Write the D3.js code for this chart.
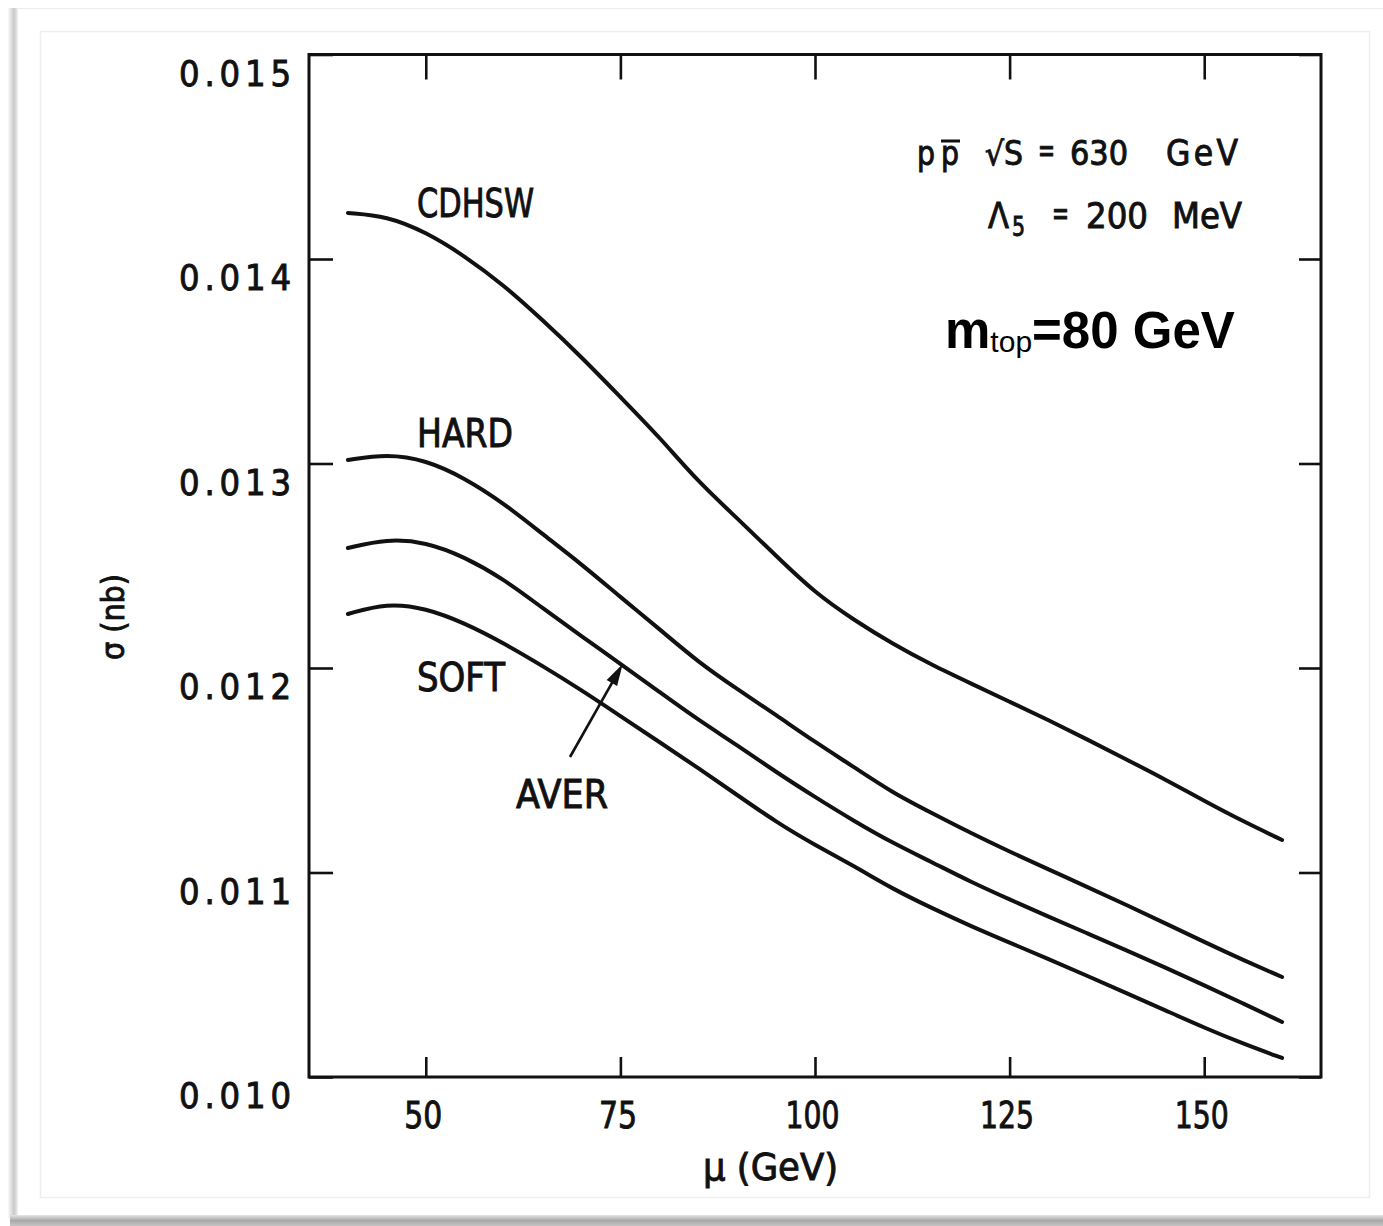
<!DOCTYPE html>
<html>
<head>
<meta charset="utf-8">
<script src="https://cdn.jsdelivr.net/npm/d3@7"></script>
<style>
  html, body { margin: 0; padding: 0; background: #fff; }
  svg { display: block; }
  .plot-text { font-family: "DejaVu Sans Condensed", "DejaVu Sans", sans-serif; font-stretch: condensed; fill: #111; stroke: #111; stroke-width: 0.9px; }
</style>
</head>
<body>
<svg id="chart" width="1383" height="1226"></svg>
<script>
// ---------------- data ----------------
const mu = [40,45,50,55,60,65,70,75,80,85,90,95,100,105,110,115,120,125,130,135,140,145,150,155,160];
const cdhsw = [0.014225,0.014210,0.014132,0.014015,0.013873,0.013702,0.013521,0.013325,0.013130,0.012910,0.012733,0.012548,0.012367,0.012235,0.012117,0.012015,0.011925,0.011835,0.011745,0.011650,0.011553,0.011455,0.011350,0.011250,0.011159];
const hard  = [0.013017,0.013046,0.013017,0.012929,0.012806,0.012655,0.012508,0.012347,0.012191,0.012029,0.011897,0.011770,0.011638,0.011516,0.011389,0.011291,0.011193,0.011102,0.011015,0.010929,0.010841,0.010752,0.010660,0.010572,0.010489];
const aver  = [0.012587,0.012631,0.012616,0.012543,0.012435,0.012293,0.012156,0.012020,0.011883,0.011746,0.011623,0.011491,0.011369,0.011252,0.011144,0.011051,0.010954,0.010868,0.010784,0.010702,0.010620,0.010535,0.010448,0.010360,0.010269];
const soft  = [0.012264,0.012318,0.012293,0.012220,0.012122,0.012010,0.011892,0.011765,0.011638,0.011511,0.011379,0.011247,0.011134,0.011032,0.010919,0.010826,0.010738,0.010657,0.010577,0.010494,0.010410,0.010326,0.010241,0.010163,0.010093];
const seriesNames = ["CDHSW","HARD","AVER","SOFT"];
const xTicks = [50,75,100,125,150];
const xTickLabels = ["50","75","100","125","150"];
const yTicks = [0.010,0.011,0.012,0.013,0.014,0.015];
const yTickLabels = ["0.010","0.011","0.012","0.013","0.014","0.015"];
const xTitle = "\u03bc  (GeV)";
const yTitle = "\u03c3 (nb)";

// ---------------- layout ----------------
const W = 1383, H = 1226;
const svg = d3.select("#chart");
const x = d3.scaleLinear().domain([35,165]).range([309,1321]);
const y = d3.scaleLinear().domain([0.010,0.015]).range([1077,54.5]);

// page decoration (paper + shadow)
const defs = svg.append("defs");
const gb = defs.append("linearGradient").attr("id","gBottom").attr("x1",0).attr("y1",0).attr("x2",0).attr("y2",1);
gb.append("stop").attr("offset","0%").attr("stop-color","#e6e6e6");
gb.append("stop").attr("offset","50%").attr("stop-color","#a8a8a8");
gb.append("stop").attr("offset","100%").attr("stop-color","#c4c4c4");
const gl = defs.append("linearGradient").attr("id","gLeft").attr("x1",0).attr("y1",0).attr("x2",1).attr("y2",0);
gl.append("stop").attr("offset","0%").attr("stop-color","#fafafa");
gl.append("stop").attr("offset","60%").attr("stop-color","#c9c9c9");
gl.append("stop").attr("offset","100%").attr("stop-color","#f2f2f2");

svg.append("rect").attr("x",0).attr("y",0).attr("width",W).attr("height",H).attr("fill","#fff");
svg.append("rect").attr("x",8).attr("y",8).attr("width",10).attr("height",1210).attr("fill","url(#gLeft)");
svg.append("rect").attr("x",10).attr("y",1215).attr("width",W-10).attr("height",11).attr("fill","url(#gBottom)");
svg.append("line").attr("x1",18).attr("x2",W).attr("y1",8.5).attr("y2",8.5).attr("stroke","#ececec").attr("stroke-width",1);
svg.append("rect").attr("x",40.5).attr("y",31.5).attr("width",1329).attr("height",1166)
  .attr("fill","none").attr("stroke","#eeeeee").attr("stroke-width",1.5);

// ---------------- axes ----------------
const [x0,x1] = x.range();
const [yb,yt] = y.range();

const axL = svg.append("g").attr("transform",`translate(${x0},0)`)
  .call(d3.axisLeft(y).tickValues(yTicks).tickSizeInner(-24).tickSizeOuter(0).tickPadding(18)
        .tickFormat((d,i)=>yTickLabels[i]));
const axR = svg.append("g").attr("transform",`translate(${x1},0)`)
  .call(d3.axisRight(y).tickValues(yTicks).tickSizeInner(-22).tickSizeOuter(0).tickFormat(""));
const axB = svg.append("g").attr("transform",`translate(0,${yb})`)
  .call(d3.axisBottom(x).tickValues(xTicks).tickSizeInner(-20).tickSizeOuter(0).tickPadding(24)
        .tickFormat((d,i)=>xTickLabels[i]));
const axT = svg.append("g").attr("transform",`translate(0,${yt})`)
  .call(d3.axisTop(x).tickValues(xTicks).tickSizeInner(-25).tickSizeOuter(0).tickFormat(""));

[axL,axR,axB,axT].forEach(g=>{
  g.select(".domain").remove();
  g.selectAll(".tick line").attr("stroke","#111").attr("stroke-width",2.6);
});
axL.selectAll(".tick text")
  .attr("class","plot-text").attr("font-size",36).attr("dy","0.85em")
  .attr("textLength",112).attr("lengthAdjust","spacing");
axB.selectAll(".tick text")
  .attr("class","plot-text").attr("font-size",38).attr("dy","0.72em").attr("dx",-3)
  .attr("textLength",(d,i)=>xTickLabels[i].length===2?38:54).attr("lengthAdjust","spacingAndGlyphs");

// frame
svg.append("rect").attr("x",x0).attr("y",yt).attr("width",x1-x0).attr("height",yb-yt)
  .attr("fill","none").attr("stroke","#111").attr("stroke-width",3);

// ---------------- curves ----------------
const line = d3.line().x((d,i)=>x(mu[i])).y(d=>y(d)).curve(d3.curveBasis);
const allSeries = [cdhsw,hard,aver,soft];
svg.append("g").selectAll("path").data(allSeries).join("path")
  .attr("d",d=>line(d)).attr("fill","none").attr("stroke","#111")
  .attr("stroke-width",4).attr("stroke-linecap","round").attr("stroke-linejoin","round");

// ---------------- curve labels ----------------
const labelSpec = [
  {t:seriesNames[0], x:417, y:217, w:117},
  {t:seriesNames[1], x:417, y:447, w:96},
  {t:seriesNames[3], x:417, y:691, w:88},
  {t:seriesNames[2], x:516, y:808, w:92}
];
svg.append("g").selectAll("text").data(labelSpec).join("text")
  .attr("class","plot-text").attr("x",d=>d.x).attr("y",d=>d.y).attr("font-size",39)
  .attr("textLength",d=>d.w).attr("lengthAdjust","spacingAndGlyphs").text(d=>d.t);

// arrow AVER label -> curve
const tx = x(75.3), ty = y(aver[7]);
const sx = 570, sy = 757;
const ang = Math.atan2(ty-sy, tx-sx);
svg.append("line").attr("x1",sx).attr("y1",sy).attr("x2",tx - 18*Math.cos(ang)).attr("y2",ty - 18*Math.sin(ang))
  .attr("stroke","#111").attr("stroke-width",2.6);
const ah = 22, aw = 6;
const bx = tx - ah*Math.cos(ang), by = ty - ah*Math.sin(ang);
svg.append("path").attr("d",`M${tx},${ty} L${bx + aw*Math.sin(ang)},${by - aw*Math.cos(ang)} L${bx - aw*Math.sin(ang)},${by + aw*Math.cos(ang)} Z`)
  .attr("fill","#111");

// ---------------- axis titles ----------------
svg.append("text").attr("class","plot-text").attr("x",703).attr("y",1180).attr("font-size",38)
  .attr("textLength",135).attr("lengthAdjust","spacingAndGlyphs").text(xTitle);
svg.append("text").attr("class","plot-text").attr("transform","translate(124,660) rotate(-90)")
  .attr("font-size",32).attr("textLength",86).attr("lengthAdjust","spacingAndGlyphs").text(yTitle);

// ---------------- annotations ----------------
const ann = svg.append("g");
function tok(txt, xL, w, yB, fs, adj){
  return ann.append("text").attr("class","plot-text").attr("x",xL).attr("y",yB).attr("font-size",fs)
    .attr("textLength",w).attr("lengthAdjust",adj||"spacingAndGlyphs").text(txt);
}
// line 1: p p-bar  sqrt(S) = 630 GeV
tok("p", 917, 18, 165, 33);
tok("p", 941, 18, 165, 33);
ann.append("line").attr("x1",941).attr("x2",960).attr("y1",141).attr("y2",141).attr("stroke","#111").attr("stroke-width",3);
tok("\u221aS", 985, 38, 165, 33);
tok("=", 1038, 17, 162, 33);
tok("630", 1070, 58, 165, 33);
tok("GeV", 1166, 72, 165, 35, "spacing");
// line 2: Lambda_5 = 200 MeV
tok("\u039b", 988, 21, 228, 36);
tok("5", 1012, 13, 236, 26);
tok("=", 1052, 17, 225, 34);
tok("200", 1086, 62, 228, 36);
tok("MeV", 1172, 70, 228, 36, "spacing");

const t3 = svg.append("text").attr("x",945).attr("y",348)
  .style("font-family","'Liberation Sans', Arial, Helvetica, sans-serif").style("fill","#000");
t3.append("tspan").attr("font-size",51).attr("font-weight","bold").text("m");
t3.append("tspan").attr("font-size",30).attr("dy",4).text("top");
t3.append("tspan").attr("font-size",51).attr("font-weight","bold").attr("dy",-4).text("=80 GeV");
</script>
</body>
</html>
